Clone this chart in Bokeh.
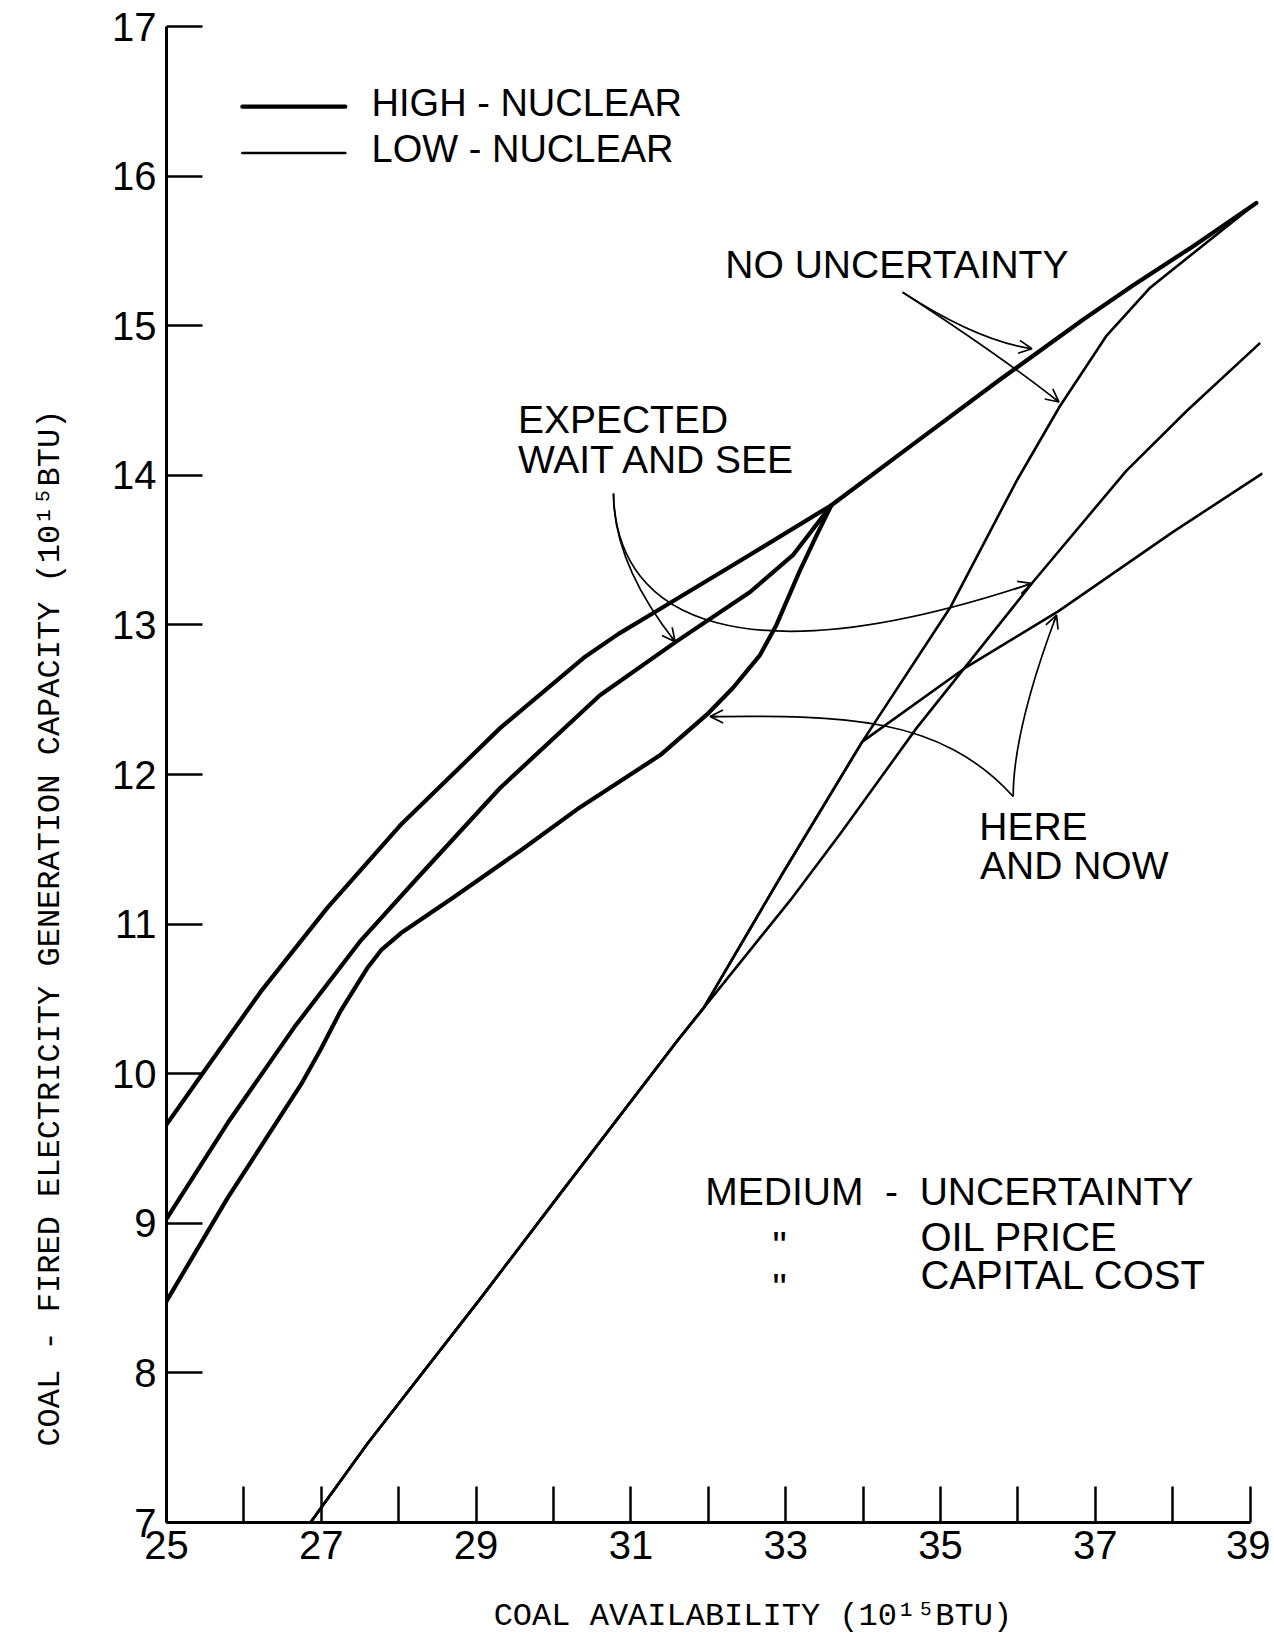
from bokeh.plotting import figure
from bokeh.models import Range1d, FixedTicker, Label, Arrow, OpenHead
from bokeh.embed import file_html
from bokeh.resources import INLINE

# ---------------- data ----------------
# High-nuclear (thick) curves
hn_no_x = [25.00, 25.45, 26.22, 27.08, 28.02, 29.31, 30.39, 30.84, 31.29, 32.32, 33.59, 34.60, 35.77, 36.84, 37.49, 38.26, 39.08]
hn_no_y = [9.66, 9.99, 10.55, 11.11, 11.66, 12.31, 12.78, 12.94, 13.08, 13.40, 13.80, 14.19, 14.64, 15.04, 15.27, 15.53, 15.82]

hn_ws_x = [25.00, 25.79, 26.65, 27.51, 28.28, 29.31, 30.60, 31.59, 32.54, 33.10, 33.59]
hn_ws_y = [9.03, 9.67, 10.31, 10.89, 11.33, 11.91, 12.53, 12.89, 13.22, 13.47, 13.80]

hn_hn_x = [25.00, 25.79, 26.74, 26.99, 27.25, 27.60, 27.78, 28.03, 28.71, 29.57, 30.34, 31.38, 31.98, 32.32, 32.67, 32.88, 33.18, 33.40, 33.59]
hn_hn_y = [8.48, 9.17, 9.93, 10.16, 10.42, 10.71, 10.83, 10.94, 11.18, 11.49, 11.78, 12.13, 12.40, 12.58, 12.80, 13.00, 13.36, 13.60, 13.80]

# Low-nuclear (thin) curves
ln_no_x = [26.86, 27.60, 29.06, 30.09, 31.60, 31.94, 32.95, 33.99, 35.13, 35.98, 36.54, 37.14, 37.70, 38.35, 39.08]
ln_no_y = [7.00, 7.53, 8.50, 9.20, 10.22, 10.44, 11.33, 12.22, 13.12, 13.96, 14.46, 14.93, 15.25, 15.52, 15.82]

ln_ws_x = [26.86, 27.60, 29.06, 30.09, 31.60, 31.94, 33.06, 33.70, 34.69, 36.20, 37.40, 38.18, 39.12]
ln_ws_y = [7.00, 7.53, 8.50, 9.20, 10.22, 10.44, 11.16, 11.60, 12.31, 13.29, 14.03, 14.43, 14.88]

ln_hn_x = [26.86, 27.60, 29.06, 30.09, 31.60, 31.94, 32.95, 33.99, 35.34, 36.52, 38.00, 39.15]
ln_hn_y = [7.00, 7.53, 8.50, 9.20, 10.22, 10.44, 11.33, 12.22, 12.72, 13.09, 13.62, 14.01]

# ticks
x_ticks = list(range(25, 40))
x_labeled = [25, 27, 29, 31, 33, 35, 37, 39]
y_ticks = list(range(7, 18))

# legend
legend_texts = ["HIGH - NUCLEAR", "LOW - NUCLEAR"]
legend_line_x = [25.98, 27.31]
legend_line_y = [16.464, 16.154]
legend_widths = [4.2, 2.6]
legend_text_x = 27.65
legend_text_y = [16.49, 16.18]

# annotation texts (x, baseline y, size)
notes = [
    ("NO UNCERTAINTY", 32.22, 15.41, "39px"),
    ("EXPECTED", 29.54, 14.376, "39px"),
    ("WAIT AND SEE", 29.54, 14.105, "39px"),
    ("HERE", 35.50, 11.65, "39px"),
    ("AND NOW", 35.51, 11.39, "39px"),
    ("MEDIUM \u00a0-\u00a0 UNCERTAINTY", 31.96, 9.21, "39px"),
    ("OIL PRICE", 34.74, 8.91, "40px"),
    ("CAPITAL COST", 34.74, 8.655, "40px"),
]
ditto_x = 32.92
ditto_y = [8.85, 8.57]

# annotation arrows: quadratic (start, control, end)
q_x0 = [34.51, 34.51, 30.775, 35.939]
q_y0 = [15.224, 15.224, 13.878, 11.853]
q_cx = [35.465, 35.79, 30.775, 35.939]
q_cy = [14.902, 14.794, 13.412, 12.294]
q_x1 = [36.18, 36.53, 31.571, 36.499]
q_y1 = [14.846, 14.49, 12.888, 13.066]
# cubic (start, c1, c2, end)
c_x0 = [30.775, 35.939]
c_y0 = [13.878, 11.853]
c_cx0 = [30.809, 34.987]
c_cy0 = [13.010, 12.397]
c_cx1 = [32.501, 33.701]
c_cy1 = [12.644, 12.396]
c_x1 = [36.176, 32.023]
c_y1 = [13.277, 12.387]

NB = "\u00a0"
x_title = NB * 4 + "COAL AVAILABILITY (10\u00b9\u2075BTU)"
y_title = "COAL - FIRED ELECTRICITY GENERATION CAPACITY (10\u00b9\u2075BTU)" + NB * 16

# ---------------- figure ----------------
p = figure(width=1270, height=1640, output_backend="svg", toolbar_location=None,
           x_range=Range1d(25, 39.16), y_range=Range1d(7, 17),
           min_border_left=166, min_border_right=8, min_border_top=26,
           min_border_bottom=118)
p.outline_line_color = None
p.xgrid.visible = False
p.ygrid.visible = False
p.background_fill_color = "white"
p.border_fill_color = "white"

for ax in (p.xaxis, p.yaxis):
    ax.axis_line_width = 3
    ax.axis_line_color = "black"
    ax.major_tick_line_width = 2.5
    ax.major_tick_line_color = "black"
    ax.major_tick_in = 36
    ax.major_tick_out = 0
    ax.minor_tick_line_color = None
    ax.major_label_text_font = "Liberation Sans"
    ax.major_label_text_font_size = "40px"
    ax.major_label_text_color = "black"
    ax.axis_label_text_font = "Liberation Mono"
    ax.axis_label_text_font_size = "32px"
    ax.axis_label_text_font_style = "normal"
    ax.axis_label_text_color = "black"

p.xaxis.ticker = FixedTicker(ticks=x_ticks)
p.xaxis.major_label_overrides = {t: (str(t) if t in x_labeled else "") for t in x_ticks}
p.xaxis.bounds = (25, 39)
p.xaxis.major_label_standoff = 8
p.xaxis.axis_label = x_title
p.xaxis.axis_label_standoff = 36
p.yaxis.ticker = FixedTicker(ticks=y_ticks)
p.yaxis.bounds = (7, 17)
p.yaxis.major_label_standoff = 10
p.yaxis.axis_label = y_title
p.yaxis.axis_label_standoff = 40

# curves
for xs, ys in ((hn_no_x, hn_no_y), (hn_ws_x, hn_ws_y), (hn_hn_x, hn_hn_y)):
    p.line(xs, ys, line_width=4.2, line_color="black", line_join="round", line_cap="round")
for xs, ys in ((ln_no_x, ln_no_y), (ln_ws_x, ln_ws_y), (ln_hn_x, ln_hn_y)):
    p.line(xs, ys, line_width=2.6, line_color="black", line_join="round", line_cap="round")

# legend
for yy, lw, txt, ty in zip(legend_line_y, legend_widths, legend_texts, legend_text_y):
    p.line(legend_line_x, [yy, yy], line_width=lw, line_color="black", line_cap="round")
    p.add_layout(Label(x=legend_text_x, y=ty, text=txt, text_font="Liberation Sans",
                       text_font_size="38px", text_color="black",
                       text_baseline="alphabetic", text_align="left"))

# notes
for txt, tx, ty, fs in notes:
    p.add_layout(Label(x=tx, y=ty, text=txt, text_font="Liberation Sans",
                       text_font_size=fs, text_color="black",
                       text_baseline="alphabetic", text_align="left"))
for dy in ditto_y:
    p.add_layout(Label(x=ditto_x, y=dy, text='"', text_font="Liberation Sans",
                       text_font_size="40px", text_color="black",
                       text_baseline="alphabetic", text_align="center"))

# annotation arrows
p.quadratic(x0=q_x0, y0=q_y0, x1=q_x1, y1=q_y1, cx=q_cx, cy=q_cy,
            line_width=1.7, line_color="black")
p.bezier(x0=c_x0, y0=c_y0, x1=c_x1, y1=c_y1, cx0=c_cx0, cy0=c_cy0, cx1=c_cx1, cy1=c_cy1,
         line_width=1.7, line_color="black")

heads = list(zip(q_cx, q_cy, q_x1, q_y1)) + list(zip(c_cx1, c_cy1, c_x1, c_y1))
for cx, cy, ex, ey in heads:
    sx = ex - 0.06 * (ex - cx)
    sy = ey - 0.06 * (ey - cy)
    p.add_layout(Arrow(x_start=sx, y_start=sy, x_end=ex, y_end=ey,
                       line_width=1.7, line_color="black",
                       end=OpenHead(size=13, line_width=1.7, line_color="black")))

open("out.html", "w").write(file_html(p, INLINE))
